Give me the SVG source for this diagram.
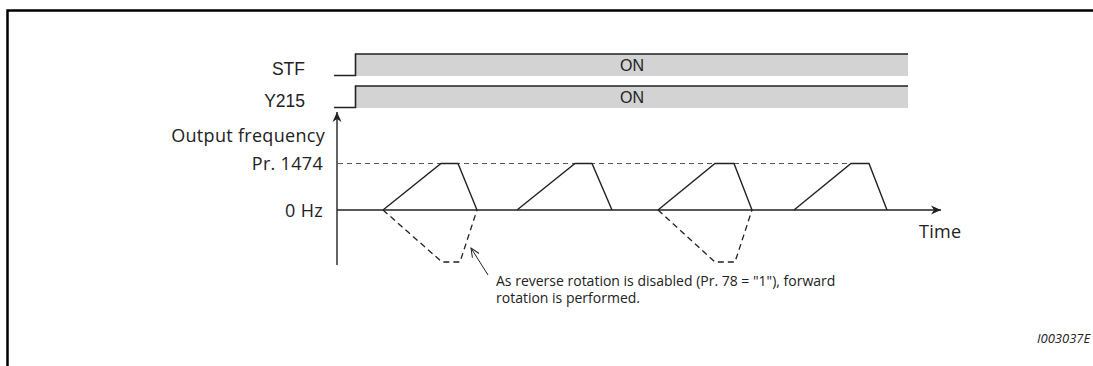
<svg xmlns="http://www.w3.org/2000/svg" width="1093" height="366" viewBox="0 0 1093 366">
<style>
.lbl{font-family:"Liberation Sans",Arial,sans-serif;font-size:17.5px;fill:#222}
.on{font-family:"Liberation Sans",Arial,sans-serif;font-size:16px;fill:#222}
.my{font-family:"Open Sans","Noto Sans",sans-serif;font-size:18px;letter-spacing:0.3px;fill:#222}
.note{font-family:"Open Sans","Noto Sans",sans-serif;font-size:14px;fill:#222}
.sig{fill:#d3d3d3;stroke:none}
.edge{fill:none;stroke:#222;stroke-width:1.6}
.ln{fill:none;stroke:#222;stroke-width:1.4}
.dash{fill:none;stroke:#222;stroke-width:1.3;stroke-dasharray:6,4}
.ref{fill:none;stroke:#555;stroke-width:1;stroke-dasharray:5,4}
</style>
<defs>
<marker id="ah" markerWidth="12" markerHeight="10" refX="10" refY="5" orient="auto" markerUnits="userSpaceOnUse">
<path d="M0,0.5 L10,5 L0,9.5 L3,5 Z" fill="#222"/>
</marker>
<marker id="open" markerWidth="10" markerHeight="10" refX="9" refY="5" orient="auto" markerUnits="userSpaceOnUse">
<path d="M0,1 L9,5 L0,9" fill="none" stroke="#222" stroke-width="1"/>
</marker>
</defs>
<rect width="1093" height="366" fill="#fff"/>
<path d="M7.5,366 V10.5 H1093" fill="none" stroke="#000" stroke-width="2.5"/>

<g id="stf">
<rect class="sig" x="356" y="54" width="552" height="22"/>
<path class="edge" d="M334,75.5 H355.5 V54 H908"/>
<text class="lbl" x="305" y="75" text-anchor="end">STF</text>
<text class="on" x="632" y="71" text-anchor="middle">ON</text>
</g>
<g id="y215">
<rect class="sig" x="356" y="86" width="552" height="22"/>
<path class="edge" d="M334,107.5 H355.5 V86 H908"/>
<text class="lbl" x="305" y="107" text-anchor="end">Y215</text>
<text class="on" x="632" y="103" text-anchor="middle">ON</text>
</g>

<g id="axes">
<line class="ln" x1="337" y1="265" x2="337" y2="112" marker-end="url(#ah)"/>
<line class="ln" x1="337" y1="210" x2="941" y2="210" marker-end="url(#ah)"/>
<text class="my" x="325" y="142" text-anchor="end">Output frequency</text>
<text class="my" x="323" y="170" text-anchor="end">Pr. 1474</text>
<text class="my" x="323" y="217" text-anchor="end">0 Hz</text>
<text class="my" x="919" y="238">Time</text>
</g>

<g id="connectors">
<line class="ref" x1="338" y1="163.5" x2="851" y2="163.5"/>
<path class="ln" d="M383,210 L441,163.5 H458 L477,210"/>
<path class="ln" d="M517,210 L575,163.5 H592 L612,210"/>
<path class="ln" d="M658,210 L715,163.5 H734 L752,210"/>
<path class="ln" d="M794,210 L851,163.5 H869 L887,210"/>
<path class="dash" d="M383,210 L442,262 H460 L477,210"/>
<path class="dash" d="M658,210 L715,262 H735 L752,210"/>
<line x1="488" y1="275" x2="471" y2="248" stroke="#222" stroke-width="1" marker-end="url(#open)"/>
</g>

<g id="note">
<text class="note" x="496" y="286">As reverse rotation is disabled (Pr. 78 = "1"), forward</text>
<text class="note" x="496" y="303">rotation is performed.</text>
</g>
<text x="1037" y="343" font-family="Open Sans,Noto Sans,sans-serif" font-size="13" font-style="italic" fill="#222">I003037E</text>
</svg>
